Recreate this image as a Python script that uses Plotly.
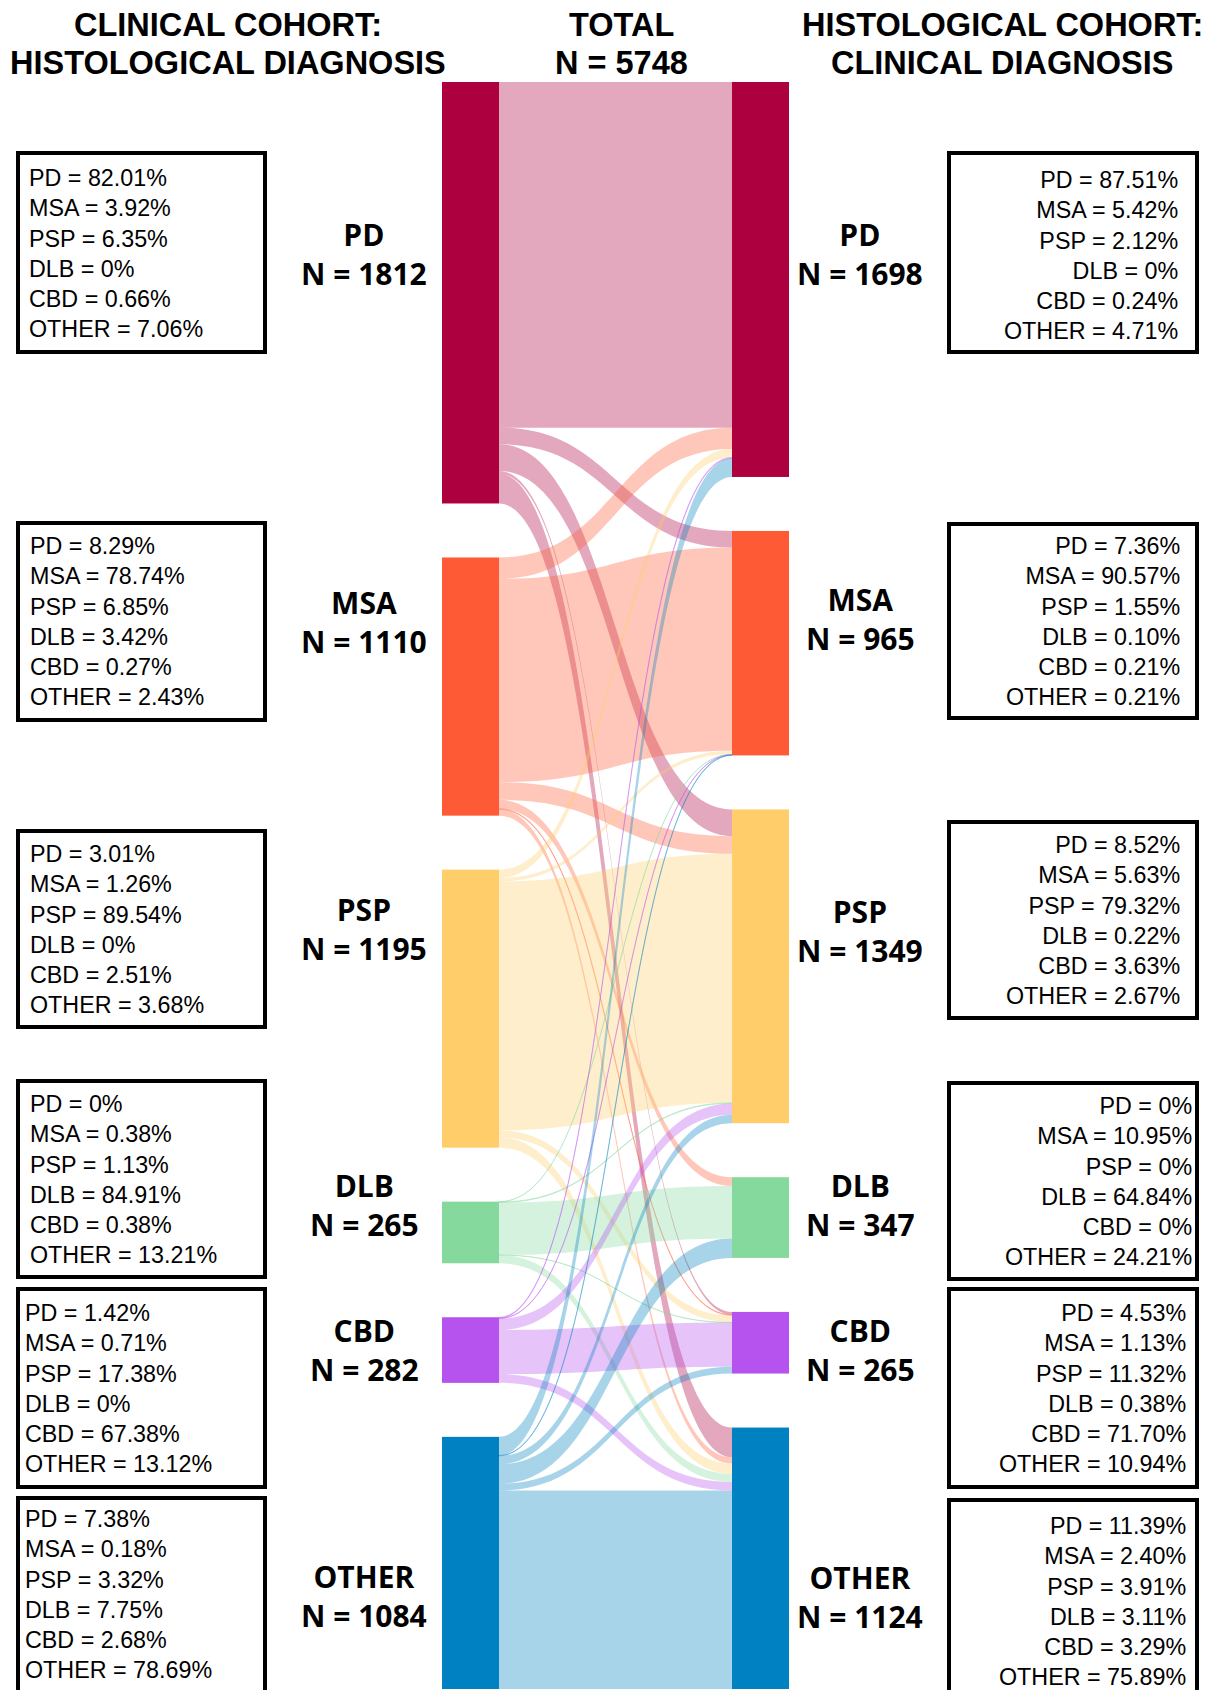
import plotly.graph_objects as go

W, H = 1208, 1690

diagnoses = ["PD", "MSA", "PSP", "DLB", "CBD", "OTHER"]
clinical_n = [1812, 1110, 1195, 265, 282, 1084]
histological_n = [1698, 965, 1349, 347, 265, 1124]
total_n = 5748

# patients: rows = clinical diagnosis, columns = histological diagnosis
flows = [
    [1486, 71, 115, 0, 12, 128],
    [92, 874, 76, 38, 3, 27],
    [36, 15, 1070, 0, 30, 44],
    [0, 1, 3, 225, 1, 35],
    [4, 2, 49, 0, 190, 37],
    [80, 2, 36, 84, 29, 853],
]

# box texts, as printed in the figure
clinical_pct = [
    ["82.01%", "3.92%", "6.35%", "0%", "0.66%", "7.06%"],
    ["8.29%", "78.74%", "6.85%", "3.42%", "0.27%", "2.43%"],
    ["3.01%", "1.26%", "89.54%", "0%", "2.51%", "3.68%"],
    ["0%", "0.38%", "1.13%", "84.91%", "0.38%", "13.21%"],
    ["1.42%", "0.71%", "17.38%", "0%", "67.38%", "13.12%"],
    ["7.38%", "0.18%", "3.32%", "7.75%", "2.68%", "78.69%"],
]
histological_pct = [
    ["87.51%", "5.42%", "2.12%", "0%", "0.24%", "4.71%"],
    ["7.36%", "90.57%", "1.55%", "0.10%", "0.21%", "0.21%"],
    ["8.52%", "5.63%", "79.32%", "0.22%", "3.63%", "2.67%"],
    ["0%", "10.95%", "0%", "64.84%", "0%", "24.21%"],
    ["4.53%", "1.13%", "11.32%", "0.38%", "71.70%", "10.94%"],
    ["11.39%", "2.40%", "3.91%", "3.11%", "3.29%", "75.89%"],
]

colors = ["#AD003F", "#FF5A36", "#FFCD69", "#85D99D", "#B652ED", "#0081C2"]

# layout (pixels from the top-left corner)
sankey_left, sankey_right = 442, 789
sankey_top, sankey_bottom = 82, 1689
node_thickness = 57
node_pad = 54

left_boxes = [(153, 352), (523, 720), (831, 1027), (1081, 1277), (1289, 1487), (1498, 1705)]
right_boxes = [(153, 352), (524, 718), (822, 1018), (1083, 1279), (1289, 1487), (1500, 1705)]
left_text_x = [27, 28, 28, 28, 23, 23]
right_text_x = [1180, 1182, 1182, 1194, 1188, 1188]
left_text_y = [253, 621, 929, 1179, 1388, 1594]
right_text_y = [255, 621, 920, 1181, 1388, 1601]
left_label_y = [254, 622, 929, 1205, 1350, 1596]
right_label_y = [254, 619, 931, 1205, 1350, 1597]


def fx(px):
    return px / W


def fy(py):
    return 1 - py / H


def rgba(hex_color, alpha):
    h = hex_color.lstrip("#")
    r, g, b = int(h[0:2], 16), int(h[2:4], 16), int(h[4:6], 16)
    return f"rgba({r},{g},{b},{alpha})"


# keep both columns in the listed order (stacked top to bottom)
dom_h = sankey_bottom - sankey_top
dom_w = sankey_right - sankey_left
ky = (dom_h - node_pad * (len(diagnoses) - 1)) / total_n


def column_centers(counts):
    ys, y = [], 0.0
    for n in counts:
        ys.append((y + n * ky / 2) / dom_h)
        y += n * ky + node_pad
    return ys


node_x = [node_thickness / 2 / dom_w] * 6 + [1 - node_thickness / 2 / dom_w] * 6
node_y = column_centers(clinical_n) + column_centers(histological_n)

src, tgt, val, link_colors = [], [], [], []
for i, row in enumerate(flows):
    for j, v in enumerate(row):
        if v > 0:
            src.append(i)
            tgt.append(j + len(diagnoses))
            val.append(v)
            link_colors.append(rgba(colors[i], 0.34))

fig = go.Figure(go.Sankey(
    arrangement="fixed",
    domain=dict(x=[fx(sankey_left), fx(sankey_right)], y=[fy(sankey_bottom), fy(sankey_top)]),
    node=dict(
        label=[""] * 12,
        x=node_x,
        y=node_y,
        customdata=[f"Clinical {d}" for d in diagnoses] + [f"Histological {d}" for d in diagnoses],
        hovertemplate="%{customdata}: %{value}<extra></extra>",
        color=colors + colors,
        thickness=node_thickness,
        pad=node_pad,
        line=dict(width=0),
    ),
    link=dict(source=src, target=tgt, value=val, color=link_colors),
))

title_font = dict(family="Liberation Sans, Arial, sans-serif", size=32.5, color="black")
label_font = dict(family="Open Sans, sans-serif", size=30, color="black")
box_font = dict(family="Liberation Sans, Arial, sans-serif", size=23.3, color="black")

annotations = []
titles = [
    (228, ["CLINICAL COHORT:", "HISTOLOGICAL DIAGNOSIS"]),
    (621, ["TOTAL", f"N = {total_n}"]),
    (1002, ["HISTOLOGICAL COHORT:", "CLINICAL DIAGNOSIS"]),
]
for x, lines in titles:
    for k, line in enumerate(lines):
        annotations.append(dict(
            x=fx(x), y=fy(25 + 38 * k), xref="paper", yref="paper",
            text=f"<b>{line}</b>", showarrow=False, font=title_font,
            xanchor="center", yanchor="middle",
        ))

shapes = []
for i, d in enumerate(diagnoses):
    # left: clinical cohort
    annotations.append(dict(
        x=fx(364), y=fy(left_label_y[i]), xref="paper", yref="paper",
        text=f"<b>{d}</b><br><b>N = {clinical_n[i]}</b>", showarrow=False,
        font=label_font, xanchor="center", yanchor="middle",
    ))
    annotations.append(dict(
        x=fx(left_text_x[i]), y=fy(left_text_y[i]), xref="paper", yref="paper",
        text="<br>".join(f"{a} = {p}" for a, p in zip(diagnoses, clinical_pct[i])),
        showarrow=False, font=box_font, align="left", xanchor="left", yanchor="middle",
    ))
    y0, y1 = left_boxes[i]
    shapes.append(dict(type="rect", xref="paper", yref="paper",
                       x0=fx(18), x1=fx(265), y0=fy(y1), y1=fy(y0),
                       line=dict(color="black", width=4)))

    # right: histological cohort
    annotations.append(dict(
        x=fx(860), y=fy(right_label_y[i]), xref="paper", yref="paper",
        text=f"<b>{d}</b><br><b>N = {histological_n[i]}</b>", showarrow=False,
        font=label_font, xanchor="center", yanchor="middle",
    ))
    annotations.append(dict(
        x=fx(right_text_x[i]), y=fy(right_text_y[i]), xref="paper", yref="paper",
        text="<br>".join(f"{a} = {p}" for a, p in zip(diagnoses, histological_pct[i])),
        showarrow=False, font=box_font, align="right", xanchor="right", yanchor="middle",
    ))
    y0, y1 = right_boxes[i]
    shapes.append(dict(type="rect", xref="paper", yref="paper",
                       x0=fx(949), x1=fx(1197), y0=fy(y1), y1=fy(y0),
                       line=dict(color="black", width=4)))

fig.update_layout(
    width=W, height=H,
    margin=dict(l=0, r=0, t=0, b=0),
    paper_bgcolor="white", plot_bgcolor="white",
    annotations=annotations, shapes=shapes,
    showlegend=False,
)

# drop the browser's default body margin so the figure sits at the page corner
fig.write_html("out.html", config={"displayModeBar": False},
               post_script="document.body.style.margin = '0';")
